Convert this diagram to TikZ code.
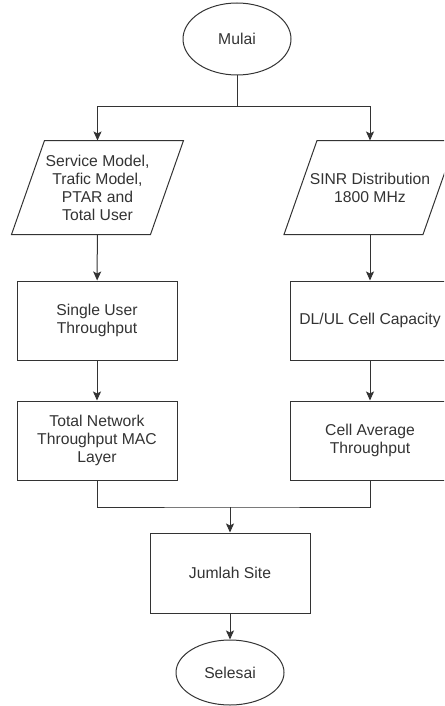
\documentclass[tikz,border=0pt]{standalone}
\usepackage{fontspec}
\setmainfont{Liberation Sans}
\usepackage{tikz}
\usetikzlibrary{arrows.meta,shapes.geometric,positioning}

\definecolor{txt}{HTML}{333333}
\tikzset{
    every node/.style={font=\fontsize{15.7}{18}\selectfont, text=txt, align=center},
    terminal/.style={ellipse, draw, minimum width=108pt, inner sep=0pt},
    inbox/.style={rectangle, minimum width=138pt, minimum height=93pt, inner sep=0pt},
    procbox/.style={rectangle, draw, minimum width=160pt, minimum height=79pt, inner sep=0pt},
}
% parallelogram round an (undrawn) inbox node
\newcommand{\slantbox}[1]{
    \draw ([xshift=16.5pt]#1.north west) -- ([xshift=16.5pt]#1.north east)
        -- ([xshift=-16.5pt]#1.south east) -- ([xshift=-16.5pt]#1.south west) -- cycle;
}

\begin{document}
\begin{tikzpicture}[x=1pt, y=-1pt, line width=1pt, draw=txt, >={Stealth[length=9pt,width=8pt,inset=2pt]}]
    \useasboundingbox (0,0) rectangle (444,706);
    \clip (0,0) rectangle (444,706);
    \node[terminal, minimum height=72pt] (mulai) at (237,39) {Mulai};
    \node[inbox] (input1) at (97.5,187.5) {Service Model,\\Trafic Model,\\PTAR and\\Total User};
    \node[inbox] (input2) at (370,187.5) {SINR Distribution\\1800 MHz};
    \slantbox{input1}
    \slantbox{input2}
    \node[procbox] (single) at (97,320.5) {Single User\\Throughput};
    \node[procbox] (total) at (97,440.5) {Total Network\\Throughput MAC\\Layer};
    \node[procbox] (cellcap) at (370,320.5) {DL/UL Cell Capacity};
    \node[procbox] (cellavg) at (370,440.5) {Cell Average\\Throughput};
    \node[procbox, minimum height=80pt] (site) at (230,573) {Jumlah Site};
    \node[terminal, minimum height=65pt] (selesai) at (230,672.5) {Selesai};
    \coordinate (split) at (237,107);
    \coordinate (merge) at (230,507);

    \draw (mulai) -- (split);
    \draw[->] (split) -| (input1);
    \draw[->] (split) -| (input2);
    \path[->]
    (input1) edge (single)
    (single) edge (total)
    (input2) edge (cellcap)
    (cellcap) edge (cellavg)
    ;
    \draw (total.south) |- (merge) -| (cellavg.south);
    \draw[->] (merge) -- (site);
    \draw[->] (site) -- (selesai);
\end{tikzpicture}
\end{document}
